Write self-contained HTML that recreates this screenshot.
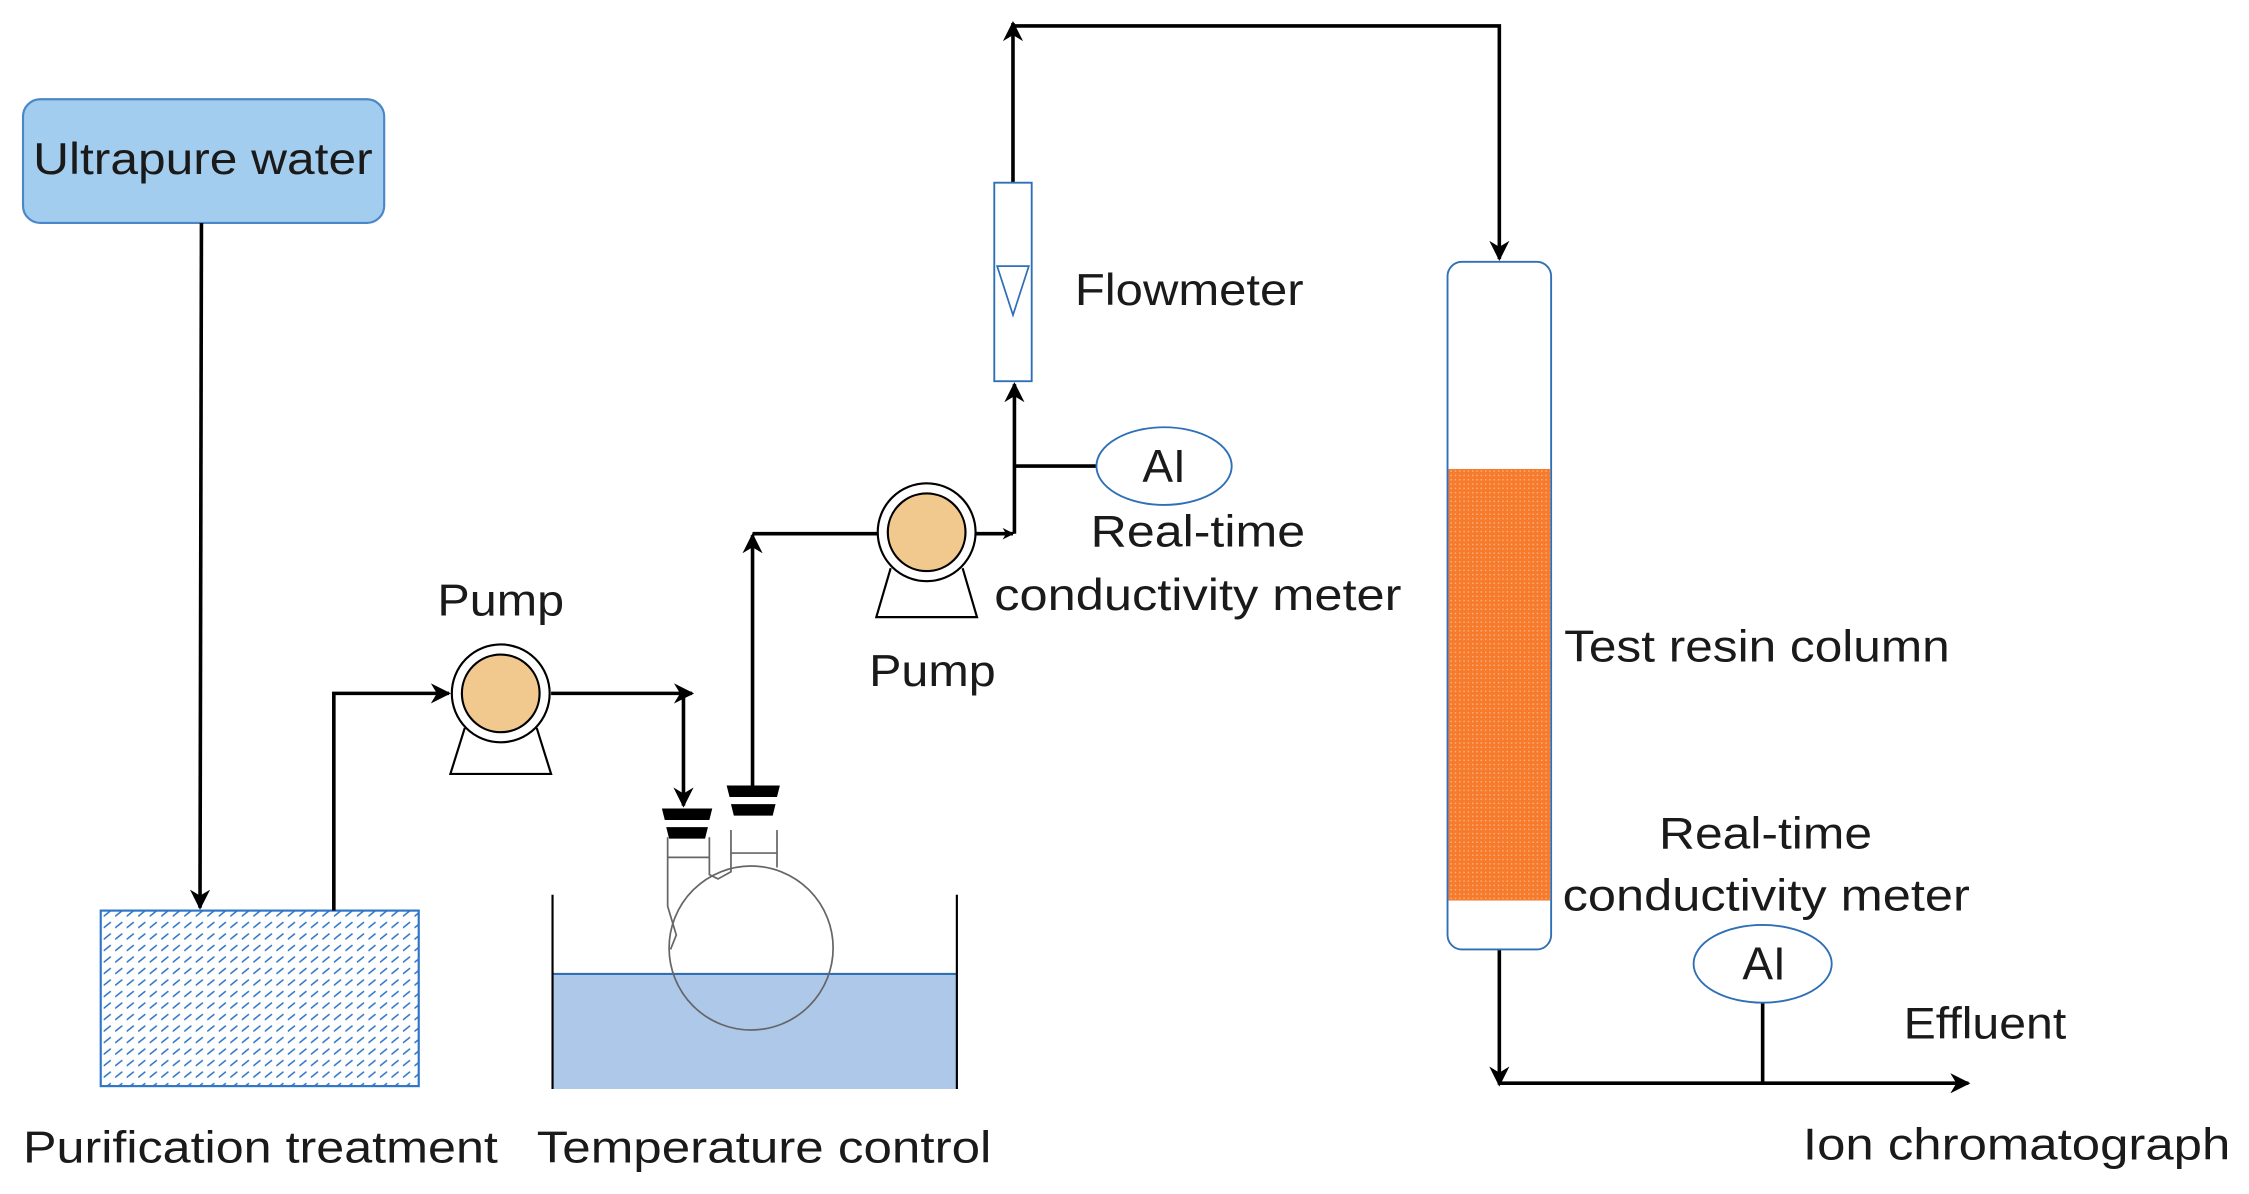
<!DOCTYPE html>
<html><head><meta charset="utf-8"><style>html,body{margin:0;padding:0;background:#fff}svg{display:block}</style></head>
<body>
<svg width="2249" height="1194" viewBox="0 0 1563 830" preserveAspectRatio="none" xmlns="http://www.w3.org/2000/svg" font-family="Liberation Sans, sans-serif" fill="#1a1a1a">
<defs>
<marker id="a" viewBox="0 0 10 10" refX="9" refY="5" markerWidth="8" markerHeight="8" markerUnits="userSpaceOnUse" orient="auto"><path d="M0,0 L10,5 L0,10 L3,5 z" fill="#000"/></marker>
<marker id="b" viewBox="0 0 10 10" refX="9" refY="5" markerWidth="14" markerHeight="14" markerUnits="userSpaceOnUse" orient="auto"><path d="M0,0 L10,5 L0,10 L3,5 z" fill="#000"/></marker>
<pattern id="h" width="8" height="8" patternUnits="userSpaceOnUse"><rect width="8" height="8" fill="#fff"/><path d="M0,5 L5,1" stroke="#2e75c8" stroke-width="1.1"/></pattern>
<pattern id="d" width="3" height="3" patternUnits="userSpaceOnUse"><rect width="3" height="3" fill="#f77b2c"/><rect width="1" height="1" fill="#fbb080"/></pattern>
</defs>
<g stroke="#000" stroke-width="2.5" fill="none">
<rect x="16" y="69" width="251" height="86" rx="12" fill="#a3cdee" stroke="#4a86c8" stroke-width="1.5"/>
<line x1="140" y1="155" x2="139" y2="631" marker-end="url(#b)"/>
<rect x="70" y="633" width="221" height="122" fill="url(#h)" stroke="#2e75c8" stroke-width="1.5"/>
<polyline points="232,633 232,482 312,482" marker-end="url(#b)"/>
<line x1="383" y1="482" x2="481" y2="482" marker-end="url(#b)"/>
<line x1="475" y1="482" x2="475" y2="560" marker-end="url(#b)"/>
<polyline points="523,547 523,372" marker-end="url(#b)"/>
<line x1="523" y1="371" x2="610" y2="371"/>
<line x1="678" y1="371" x2="704" y2="371" marker-end="url(#a)"/>
<line x1="705" y1="371" x2="705" y2="267" marker-end="url(#b)"/>
<line x1="705" y1="324" x2="762" y2="324"/>
<line x1="704" y1="127" x2="704" y2="16" marker-end="url(#b)"/>
<polyline points="704,18 1042,18 1042,180" marker-end="url(#b)"/>
<line x1="1042" y1="660" x2="1042" y2="754" marker-end="url(#b)"/>
<line x1="1042" y1="753" x2="1368" y2="753" marker-end="url(#b)"/>
<line x1="1225" y1="697" x2="1225" y2="753"/>
</g>
<g stroke="#000" stroke-width="1.5">
<path d="M323,506 L313,538 L383,538 L373,506" fill="#fff"/>
<circle cx="348" cy="482" r="34" fill="#fff"/><circle cx="348" cy="482" r="27" fill="#f1c98f"/>
<path d="M619,395 L609,429 L679,429 L669,395" fill="#fff"/>
<circle cx="644" cy="370" r="34" fill="#fff"/><circle cx="644" cy="370" r="27" fill="#f1c98f"/>
</g>
<rect x="384" y="677" width="281" height="80" fill="#adc8e8"/>
<line x1="384" y1="677" x2="665" y2="677" stroke="#2e6fb5" stroke-width="1.5"/>
<g stroke="#000" stroke-width="1.5"><line x1="384" y1="622" x2="384" y2="757"/><line x1="665" y1="622" x2="665" y2="757"/></g>
<!-- flask -->
<g stroke="#666" stroke-width="1.2" fill="none">
<circle cx="522" cy="659" r="57"/>
<path d="M540,577 L540,603"/>
<path d="M464,582 L464,630 L467,640 L470,650 L466,660"/>
<path d="M493,582 L493,608 L499,611 L508,606 L508,577"/>
<line x1="464" y1="596" x2="493" y2="596"/><line x1="508" y1="593" x2="540" y2="593"/>
</g>
<g fill="#000">
<path d="M460,562 L495,562 L493,570 L462,570 z"/><path d="M463,575 L492,575 L490,583 L465,583 z"/>
<path d="M505,546 L542,546 L540,554 L507,554 z"/><path d="M508,559 L539,559 L537,567 L510,567 z"/>
</g>
<rect x="691" y="127" width="26" height="138" fill="#fff" stroke="#2e6fb5" stroke-width="1.3"/>
<path d="M693,185 L715,185 L704,219 z" fill="none" stroke="#2e6fb5" stroke-width="1.2"/>
<ellipse cx="809" cy="324" rx="47" ry="27" fill="#fff" stroke="#2e6fb5" stroke-width="1.3"/>
<ellipse cx="1225" cy="670" rx="48" ry="27" fill="#fff" stroke="#2e6fb5" stroke-width="1.3"/>
<rect x="1006" y="182" width="72" height="478" rx="10" fill="#fff" stroke="#2e6fb5" stroke-width="1.3"/>
<rect x="1006.7" y="326" width="70.6" height="300" fill="url(#d)"/>
<g font-size="31">
<text x="141" y="121" text-anchor="middle" textLength="236" lengthAdjust="spacingAndGlyphs">Ultrapure water</text>
<text x="304" y="428" textLength="88" lengthAdjust="spacingAndGlyphs">Pump</text>
<text x="604" y="477" textLength="88" lengthAdjust="spacingAndGlyphs">Pump</text>
<text x="747" y="212" textLength="159" lengthAdjust="spacingAndGlyphs">Flowmeter</text>
<text x="809" y="335" text-anchor="middle" font-size="32">AI</text>
<text x="1226" y="681" text-anchor="middle" font-size="32">AI</text>
<text x="758" y="380" textLength="149" lengthAdjust="spacingAndGlyphs">Real-time</text>
<text x="691" y="424" textLength="283" lengthAdjust="spacingAndGlyphs">conductivity meter</text>
<text x="1087" y="460" textLength="268" lengthAdjust="spacingAndGlyphs">Test resin column</text>
<text x="1153" y="590" textLength="148" lengthAdjust="spacingAndGlyphs">Real-time</text>
<text x="1086" y="633" textLength="283" lengthAdjust="spacingAndGlyphs">conductivity meter</text>
<text x="1323" y="722" textLength="113" lengthAdjust="spacingAndGlyphs">Effluent</text>
<text x="1253" y="806" textLength="297" lengthAdjust="spacingAndGlyphs">Ion chromatograph</text>
<text x="16" y="808" textLength="330" lengthAdjust="spacingAndGlyphs">Purification treatment</text>
<text x="373" y="808" textLength="316" lengthAdjust="spacingAndGlyphs">Temperature control</text>
</g>
</svg>
</body></html>
